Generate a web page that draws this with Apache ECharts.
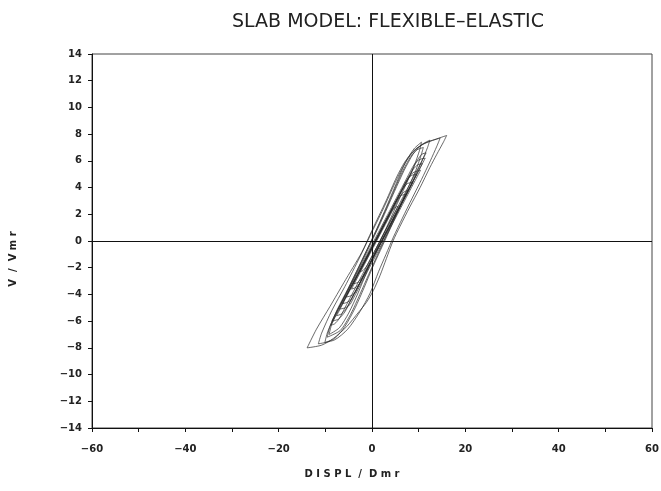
<!DOCTYPE html>
<html>
<head>
<meta charset="utf-8">
<script src="https://cdn.jsdelivr.net/npm/echarts@6/dist/echarts.min.js"></script>
<style>
html,body{margin:0;padding:0;background:#fff;}
#chart{width:661px;height:491px;}
</style>
</head>
<body>
<div id="chart"></div>
<script>
// ---- text ----
const chartTitle = 'SLAB MODEL: FLEXIBLE–ELASTIC';
const xAxisTitle = 'D I S P L  /  D m r';
const yAxisTitle = 'V  /  V m r';

// ---- tick labels ----
const xTickValues = [-60, -40, -20, 0, 20, 40, 60];
const xTickLabels = ['−60', '−40', '−20', '0', '20', '40', '60'];
const yTickValues = [-14, -12, -10, -8, -6, -4, -2, 0, 2, 4, 6, 8, 10, 12, 14];
const yTickLabels = ['−14', '−12', '−10', '−8', '−6', '−4', '−2', '0', '2', '4', '6', '8', '10', '12', '14'];

// ---- hysteresis loops [displacement, shear] ----
const loopA = [[-2.6,-2.3],[-1.4,-1.5],[0.1,-0.5],[1.6,0.5],[3.1,1.5],[4.1,2.2],[4.9,2.5],[5.6,2.6],
  [4.7,2.0],[3.2,1.0],[1.7,0],[0.2,-1.0],[-1.0,-1.8],[-1.9,-2.2],[-2.6,-2.3]];
const loopB = [[-4.0,-3.2],[-2.95,-2.5],[-1.45,-1.5],[0.05,-0.5],[1.55,0.5],[3.05,1.5],[4.55,2.5],[5.3,3.0],[6.2,3.4],[7.2,3.5],
  [6.15,2.8],[4.65,1.8],[3.15,0.8],[1.65,-0.2],[0.15,-1.2],[-1.35,-2.2],[-2.1,-2.7],[-3.0,-3.1],[-4.0,-3.2]];
const loopB2 = [[-4.4,-3.6],[-3.5,-3.0],[-2.0,-2.0],[-0.5,-1.0],[1.0,0],[2.5,1.0],[4.0,2.0],[5.5,3.0],[6.1,3.4],[7.0,3.7],[7.8,3.8],
  [6.6,3.0],[5.1,2.0],[3.6,1.0],[2.1,0],[0.6,-1.0],[-0.9,-2.0],[-2.4,-3.0],[-2.9,-3.3],[-3.6,-3.5],[-4.4,-3.6]];
const loopC = [[-5.6,-4.2],[-4.55,-3.5],[-3.05,-2.5],[-1.55,-1.5],[-0.05,-0.5],[1.45,0.5],[2.95,1.5],[4.45,2.5],[5.95,3.5],[6.6,3.9],[7.6,4.3],[8.8,4.4],
  [7.45,3.5],[5.95,2.5],[4.45,1.5],[2.95,0.5],[1.45,-0.5],[-0.05,-1.5],[-1.55,-2.5],[-3.05,-3.5],[-3.6,-3.85],[-4.5,-4.1],[-5.6,-4.2]];
const loopJ = [[-6.4,-4.7],[-5.35,-4.0],[-3.85,-3.0],[-2.35,-2.0],[-0.85,-1.0],[0.65,0],[2.15,1.0],[3.65,2.0],[5.15,3.0],[6.65,4.0],[7.4,4.5],[8.4,4.9],[9.6,5.0],
  [8.1,4.0],[6.6,3.0],[5.1,2.0],[3.6,1.0],[2.1,0],[0.6,-1.0],[-0.9,-2.0],[-2.4,-3.0],[-3.9,-4.0],[-4.5,-4.4],[-5.4,-4.6],[-6.4,-4.7]];
const loopD = [[-7.0,-5.1],[-6.1,-4.5],[-4.6,-3.5],[-3.1,-2.5],[-1.6,-1.5],[-0.1,-0.5],[1.4,0.5],[2.9,1.5],[4.4,2.5],[5.9,3.5],[7.4,4.5],[8.0,4.85],[9.0,5.15],[10.4,5.3],
  [9.2,4.5],[7.7,3.5],[6.2,2.5],[4.7,1.5],[3.2,0.5],[1.7,-0.5],[0.2,-1.5],[-1.3,-2.5],[-2.8,-3.5],[-4.3,-4.5],[-4.7,-4.75],[-5.7,-5.0],[-7.0,-5.1]];
const loopD2 = [[-7.6,-5.6],[-6.7,-5.0],[-5.2,-4.0],[-3.7,-3.0],[-2.2,-2.0],[-0.7,-1.0],[0.8,0],[2.3,1.0],[3.8,2.0],[5.3,3.0],[6.8,4.0],[8.3,5.0],[8.9,5.4],[9.8,5.7],[10.8,5.8],
  [9.6,5.0],[8.1,4.0],[6.6,3.0],[5.1,2.0],[3.6,1.0],[2.1,0],[0.6,-1.0],[-0.9,-2.0],[-2.4,-3.0],[-3.9,-4.0],[-5.4,-5.0],[-6.5,-5.45],[-7.6,-5.6]];
const loopE = [[-8.6,-6.0],[-7.7,-5.4],[-6.35,-4.5],[-4.85,-3.5],[-3.35,-2.5],[-1.85,-1.5],[-0.35,-0.5],[1.15,0.5],[2.65,1.5],[4.15,2.5],[5.65,3.5],[7.15,4.5],[8.65,5.5],[9.3,5.85],[10.2,6.1],[11.4,6.2],
  [10.35,5.5],[8.85,4.5],[7.35,3.5],[5.85,2.5],[4.35,1.5],[2.85,0.5],[1.35,-0.5],[-0.15,-1.5],[-1.65,-2.5],[-3.15,-3.5],[-4.65,-4.5],[-5.8,-5.3],[-7.2,-5.85],[-8.6,-6.0]];
const loopK = [[-8.8,-6.3],[-7.6,-5.5],[-6.1,-4.5],[-4.6,-3.5],[-3.1,-2.5],[-1.6,-1.5],[-0.1,-0.5],[1.4,0.5],[2.9,1.5],[4.4,2.5],[5.9,3.5],[7.4,4.5],[8.9,5.5],[9.8,6.1],[10.7,6.5],[11.6,6.6],
  [10.7,6.0],[9.2,5.0],[7.7,4.0],[6.2,3.0],[4.7,2.0],[3.2,1.0],[1.7,0],[0.2,-1.0],[-1.3,-2.0],[-2.8,-3.0],[-4.3,-4.0],[-5.8,-5.0],[-7.0,-5.8],[-8.0,-6.2],[-8.8,-6.3]];
const loopF = [[-9.2,-7.0],[-8.6,-6.2],[-6.8,-4.8],[-4.4,-3.1],[-1.8,-1.2],[0.5,0.5],[2.9,2.4],[5.2,4.3],[7.2,5.9],[9.0,6.9],[10.6,7.4],
  [10.2,6.8],[9.0,5.6],[7.5,4.4],[5.8,3.1],[4.0,1.7],[2.3,0.4],[0.6,-0.9],[-1.1,-2.3],[-3.0,-3.9],[-5.0,-5.4],[-7.0,-6.5],[-9.2,-7.0]];
const loopL = [[-9.6,-7.2],[-9.0,-6.4],[-7.4,-5.1],[-5.2,-3.6],[-2.8,-1.9],[-0.6,-0.3],[1.6,1.3],[3.9,3.1],[6.0,4.8],[7.9,6.1],[9.5,6.8],[11.0,7.0],
  [10.5,6.4],[9.4,5.3],[7.9,4.1],[6.2,2.8],[4.5,1.5],[2.8,0.2],[1.1,-1.1],[-0.7,-2.5],[-2.6,-4.0],[-4.6,-5.5],[-6.8,-6.7],[-9.6,-7.2]];
const loopG = [[-10.1,-7.6],[-9.5,-6.8],[-7.6,-5.3],[-5.0,-3.6],[-2.2,-1.6],[0.0,0.0],[2.4,1.8],[4.8,3.7],[6.9,5.3],[8.8,6.5],[10.6,7.2],[12.4,7.55],
  [11.9,7.0],[10.6,5.9],[9.0,4.7],[7.2,3.4],[5.3,2.0],[3.5,0.6],[1.8,-0.7],[0.1,-2.0],[-1.7,-3.5],[-3.6,-5.0],[-5.8,-6.4],[-8.0,-7.3],[-10.1,-7.6]];
const loopH = [[-11.5,-7.7],[-10.8,-6.9],[-8.6,-5.2],[-5.8,-3.4],[-2.6,-1.2],[-0.4,0.4],[2.4,2.4],[5.0,4.4],[7.2,5.9],[9.4,6.9],[11.8,7.4],[14.6,7.7],
  [13.9,7.1],[12.5,6.0],[10.6,4.6],[8.6,3.2],[6.5,1.7],[4.6,0.3],[3.0,-1.0],[1.4,-2.3],[-0.4,-3.9],[-2.6,-5.3],[-5.2,-6.6],[-8.0,-7.4],[-11.5,-7.7]];
const loopI = [[-13.9,-8.0],[-11.9,-6.6],[-9.0,-4.9],[-6.0,-3.1],[-2.2,-0.85],[0.0,0.8],[3.0,3.0],[5.3,4.8],[7.0,5.9],[8.8,6.7],[11.0,7.25],[13.5,7.6],[16.0,7.9],
  [15.3,7.4],[13.9,6.5],[12.4,5.5],[10.3,4.0],[8.1,2.55],[6.0,1.1],[4.5,0.0],[3.1,-1.3],[1.7,-2.6],[0.3,-3.7],[-1.2,-4.6],[-2.8,-5.3],[-5.4,-6.4],[-8.3,-7.3],[-10.8,-7.8],[-13.9,-8.0]];

const loops = [loopA, loopB, loopB2, loopC, loopJ, loopD, loopD2, loopE, loopK, loopF, loopL, loopG, loopH, loopI];

const chart = echarts.init(document.getElementById('chart'), null, {renderer: 'canvas'});
const ink = '#222';
const labelFont = {color: ink, fontSize: 10, fontWeight: 'bold', fontFamily: 'DejaVu Sans'};

const series = loops.map((d) => ({
  type: 'line',
  data: d,
  showSymbol: false,
  smooth: 0.25,
  silent: true,
  lineStyle: {color: '#2a2a2a', width: 0.7},
  z: 3
}));
series[0].markLine = {
  silent: true,
  symbol: ['none', 'none'],
  label: {show: false},
  lineStyle: {color: '#111', width: 1, type: 'solid'},
  data: [{xAxis: 0}, {yAxis: 0}]
};

chart.setOption({
  animation: false,
  backgroundColor: '#fff',
  grid: {left: 92, right: 9, top: 54, bottom: 63, containLabel: false, outerBoundsMode: 'none',
         show: true, borderColor: '#444', borderWidth: 1},
  xAxis: {
    type: 'value', min: -60, max: 60, interval: 10,
    axisLine: {show: true, onZero: false, lineStyle: {color: '#111', width: 1}},
    axisTick: {show: true, length: 4, inside: false, lineStyle: {color: '#111'}},
    splitLine: {show: false},
    axisLabel: Object.assign({margin: 16, formatter: v => {
      const k = xTickValues.indexOf(v); return k >= 0 ? xTickLabels[k] : '';
    }}, labelFont)
  },
  yAxis: {
    type: 'value', min: -14, max: 14, interval: 2,
    axisLine: {show: true, onZero: false, lineStyle: {color: '#111', width: 1}},
    axisTick: {show: true, length: 4, inside: false, lineStyle: {color: '#111'}},
    splitLine: {show: false},
    axisLabel: Object.assign({margin: 10, formatter: v => {
      const k = yTickValues.indexOf(v); return k >= 0 ? yTickLabels[k] : '';
    }}, labelFont)
  },
  graphic: [
    {type: 'text', x: 388, y: 22, style: {text: chartTitle, fill: ink, font: '19px "DejaVu Sans"', textAlign: 'center', textVerticalAlign: 'middle'}},
    {type: 'text', x: 352, y: 474, style: {text: xAxisTitle, fill: ink, font: 'bold 10px "DejaVu Sans"', textAlign: 'center', textVerticalAlign: 'middle'}},
    {type: 'text', x: 13, y: 259, rotation: Math.PI / 2, style: {text: yAxisTitle, fill: ink, font: 'bold 10px "DejaVu Sans"', textAlign: 'center', textVerticalAlign: 'middle'}}
  ],
  series: series
});
</script>
</body>
</html>
